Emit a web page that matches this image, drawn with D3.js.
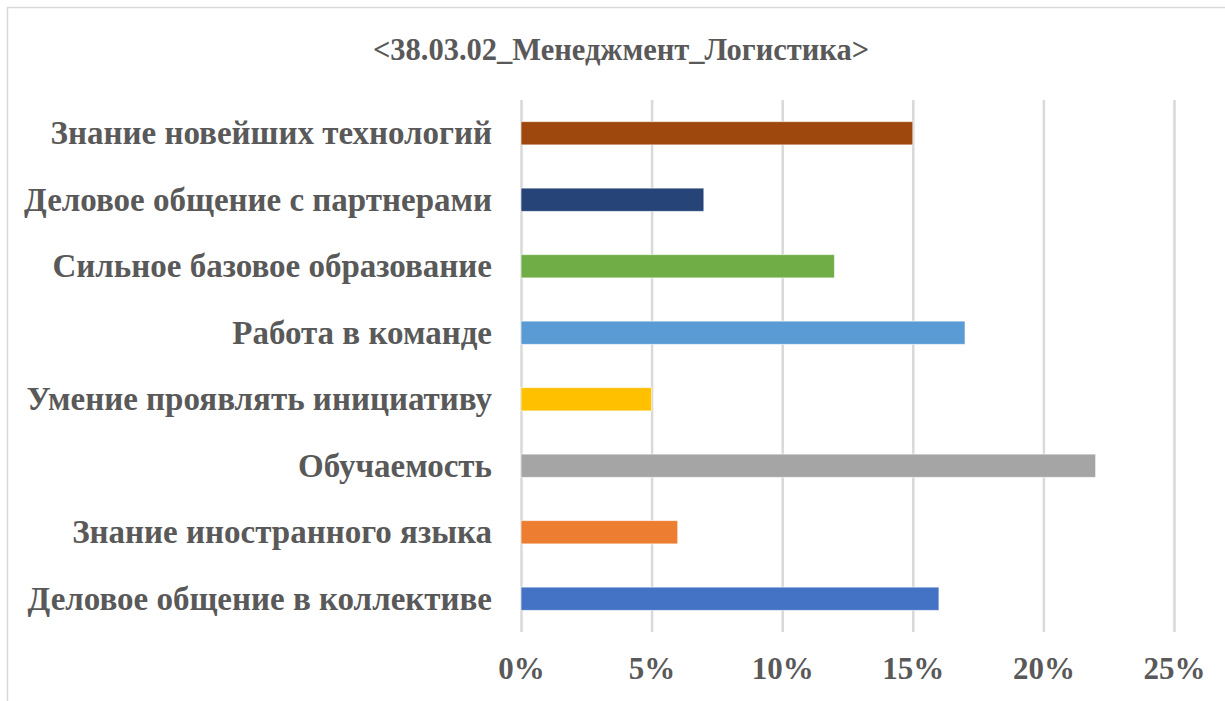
<!DOCTYPE html>
<html>
<head>
<meta charset="utf-8">
<script src="https://cdn.jsdelivr.net/npm/d3@7"></script>
<style>
    body { margin: 0; background: #fff; }
    svg text { font-family: "Liberation Serif", "Times New Roman", serif; font-weight: bold; fill: #595959; }
</style>
</head>
<body>
<svg id="chart"></svg>
<script>
// chart data, bottom to top as in the picture
const title = '<38.03.02_Менеджмент_Логистика>';
const categories = [
    'Деловое общение в коллективе',
    'Знание иностранного  языка',
    'Обучаемость',
    'Умение проявлять инициативу',
    'Работа в команде',
    'Сильное базовое образование',
    'Деловое общение с партнерами',
    'Знание новейших технологий'
];
const values = [0.16, 0.06, 0.22, 0.05, 0.17, 0.12, 0.07, 0.15];
const colours = ['#4472C4', '#ED7D31', '#A5A5A5', '#FFC000', '#5B9BD5', '#70AD47', '#264478', '#9E480E'];
const xTicks = [0, 0.05, 0.10, 0.15, 0.20, 0.25];

const config = {
    width: 1225,
    height: 701,
    margin: { top: 100, right: 51, bottom: 69, left: 521 },
    labelSize: 33,
    tickSize: 31,
    titleSize: 30.5
};

const svg = d3.select('#chart')
    .attr('width', config.width)
    .attr('height', config.height);

// outer chart frame (right and bottom edges fall outside the picture)
svg.append('rect')
    .attr('x', 7.5)
    .attr('y', 7.5)
    .attr('width', config.width + 20)
    .attr('height', config.height + 20)
    .attr('fill', 'none')
    .attr('stroke', '#d9d9d9')
    .attr('stroke-width', 1.5);

const innerW = config.width - config.margin.left - config.margin.right;
const innerH = config.height - config.margin.top - config.margin.bottom;

const xScale = d3.scaleLinear()
    .domain([0, 0.25])
    .range([0, innerW]);

const yScale = d3.scaleBand()
    .domain(categories.slice().reverse())
    .range([0, innerH])
    .paddingInner(0.65)
    .paddingOuter(0.325);

const g = svg.append('g')
    .attr('transform', `translate(${config.margin.left},${config.margin.top})`);

// vertical grid lines
const grid = g.append('g')
    .call(d3.axisBottom(xScale).tickValues(xTicks).tickSize(innerH).tickFormat(''));
grid.select('.domain').remove();
grid.selectAll('.tick line').attr('stroke', '#d9d9d9').attr('stroke-width', 2.5);

// bars
g.selectAll('.bar')
    .data(values)
    .join('rect')
    .attr('class', 'bar')
    .attr('x', xScale(0))
    .attr('y', (d, i) => yScale(categories[i]))
    .attr('width', d => xScale(d) - xScale(0))
    .attr('height', yScale.bandwidth())
    .attr('fill', (d, i) => colours[i])
    .attr('stroke', '#fff')
    .attr('stroke-opacity', 0.6)
    .attr('stroke-width', 1);

// category axis
const yAxisG = g.append('g')
    .call(d3.axisLeft(yScale).tickSize(0).tickPadding(29));
yAxisG.select('.domain').remove();
yAxisG.selectAll('text')
    .style('font-size', config.labelSize + 'px')
    .attr('dy', '0.33em');

// percent axis
const xAxisG = g.append('g')
    .attr('transform', `translate(0,${innerH})`)
    .call(d3.axisBottom(xScale).tickValues(xTicks).tickSize(0).tickPadding(25).tickFormat(d3.format('.0%')));
xAxisG.select('.domain').remove();
xAxisG.selectAll('text')
    .style('font-size', config.tickSize + 'px');

// title
svg.append('text')
    .attr('x', 621)
    .attr('y', 60)
    .attr('text-anchor', 'middle')
    .style('font-size', config.titleSize + 'px')
    .text(title);
</script>
</body>
</html>
